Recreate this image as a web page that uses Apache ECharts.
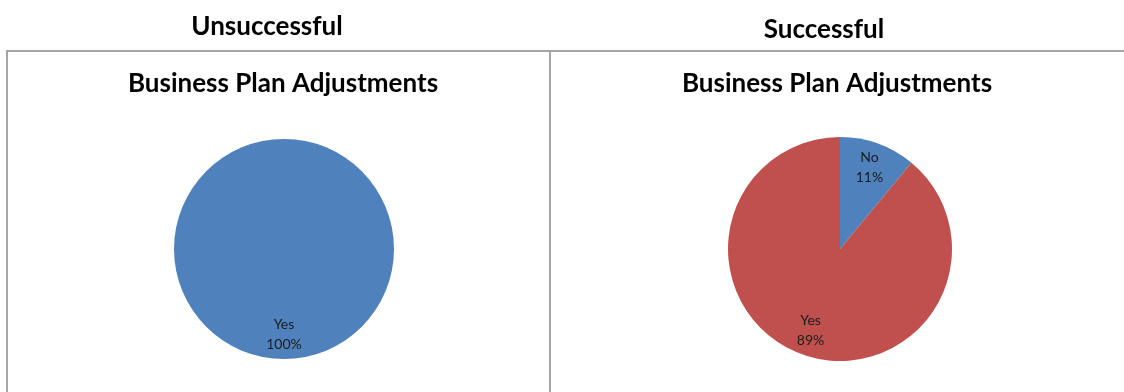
<!DOCTYPE html>
<html>
<head>
<meta charset="utf-8">
<script src="https://cdn.jsdelivr.net/npm/echarts@6/dist/echarts.min.js"></script>
<style>
  html, body { margin: 0; padding: 0; background: #ffffff; }
  #chart { width: 1124px; height: 392px; }
</style>
</head>
<body>
<div id="chart"></div>
<script>
// Group headings and chart titles
const groupTitles = ['Unsuccessful', 'Successful'];
const chartTitle = 'Business Plan Adjustments';

// Slice categories and percentage shares for each group
const unsuccessfulCategories = ['Yes'];
const unsuccessfulValues = [100];
const successfulCategories = ['No', 'Yes'];
const successfulValues = [11, 89];

const BLUE = '#4F81BD';
const RED = '#C0504D';
const FONT = 'Lato, "Open Sans", sans-serif';

function toData(cats, vals, colors) {
  return cats.map((c, i) => ({ name: c, value: vals[i], itemStyle: { color: colors[i] } }));
}

const leftData = toData(unsuccessfulCategories, unsuccessfulValues, [BLUE]);
const rightData = toData(successfulCategories, successfulValues, [BLUE, RED]);

// Solid pie without labels
function pieBody(data, center, r) {
  return {
    type: 'pie', center: center, radius: r, startAngle: 90, clockwise: true,
    silent: true, animation: false, label: { show: false }, labelLine: { show: false },
    itemStyle: { borderWidth: 0 }, data: data
  };
}
// Transparent ring on top that carries the data labels at three quarters of the radius
function pieLabels(data, center, r) {
  return {
    type: 'pie', center: center, radius: [r / 2, r], startAngle: 90, clockwise: true,
    silent: true, animation: false,
    itemStyle: { color: 'rgba(0,0,0,0)', borderWidth: 0 },
    labelLine: { show: false },
    label: {
      show: true, position: 'inside', formatter: '{b}\n{c}%',
      fontFamily: FONT, fontSize: 14, color: '#1c1c1c', lineHeight: 20
    },
    data: data.map(d => ({ name: d.name, value: d.value }))
  };
}

const chart = echarts.init(document.getElementById('chart'), null, { renderer: 'canvas' });

chart.setOption({
  backgroundColor: '#ffffff',
  animation: false,
  title: [
    { text: groupTitles[0], left: 262, top: 9, textAlign: 'center',
      textStyle: { fontFamily: FONT, fontSize: 26, fontWeight: 'bold', color: '#000' } },
    { text: groupTitles[1], left: 819, top: 12, textAlign: 'center',
      textStyle: { fontFamily: FONT, fontSize: 26, fontWeight: 'bold', color: '#000' } },
    { text: chartTitle, left: 278, top: 66, textAlign: 'center',
      textStyle: { fontFamily: FONT, fontSize: 26, fontWeight: 'bold', color: '#000' } },
    { text: chartTitle, left: 832, top: 66, textAlign: 'center',
      textStyle: { fontFamily: FONT, fontSize: 26, fontWeight: 'bold', color: '#000' } }
  ],
  graphic: [
    { type: 'polyline', silent: true,
      shape: { points: [[7, 392], [7, 51], [1124, 51]] },
      style: { stroke: '#a6a6a6', lineWidth: 2, fill: null } },
    { type: 'line', silent: true,
      shape: { x1: 550, y1: 51, x2: 550, y2: 392 },
      style: { stroke: '#a6a6a6', lineWidth: 2 } }
  ],
  series: [
    pieBody(leftData, [284, 249], 110),
    pieLabels(leftData, [284, 249], 110),
    pieBody(rightData, [840, 249], 112),
    pieLabels(rightData, [840, 249], 112)
  ]
});
</script>
</body>
</html>
